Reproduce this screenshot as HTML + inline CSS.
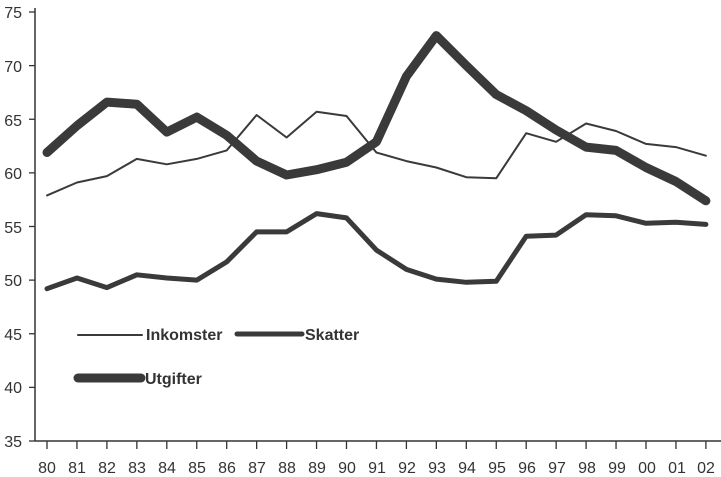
<!DOCTYPE html>
<html><head><meta charset="utf-8"><style>
html,body{margin:0;padding:0;background:#fff;}
svg{display:block;}
text{font-family:"Liberation Sans",sans-serif;fill:#333;}
</style></head><body>
<svg id="s" width="721" height="477" viewBox="0 0 721 477" xmlns="http://www.w3.org/2000/svg">
<g stroke="#333" stroke-width="1.5" fill="none">
<line x1="35" y1="8" x2="35" y2="441"/>
<line x1="35" y1="441" x2="721" y2="441"/>
</g>
<g id="ticks" stroke="#333" stroke-width="1.3"></g>
<g font-size="16" text-anchor="end">
<text x="22" y="18">75</text><text x="22" y="72">70</text><text x="22" y="126">65</text>
<text x="22" y="179">60</text><text x="22" y="233">55</text><text x="22" y="286">50</text>
<text x="22" y="340">45</text><text x="22" y="393">40</text><text x="22" y="447">35</text>
</g>
<g font-size="16" text-anchor="middle">
<text x="47" y="473">80</text><text x="77" y="473">81</text><text x="107" y="473">82</text>
<text x="137" y="473">83</text><text x="167" y="473">84</text><text x="197" y="473">85</text>
<text x="227" y="473">86</text><text x="257" y="473">87</text><text x="287" y="473">88</text>
<text x="317" y="473">89</text><text x="347" y="473">90</text><text x="377" y="473">91</text>
<text x="407" y="473">92</text><text x="437" y="473">93</text><text x="467" y="473">94</text>
<text x="497" y="473">95</text><text x="527" y="473">96</text><text x="557" y="473">97</text>
<text x="587" y="473">98</text><text x="617" y="473">99</text><text x="647" y="473">00</text>
<text x="677" y="473">01</text><text x="706" y="473">02</text>
</g>
<g id="lines" fill="none" stroke="#3a3a3a" stroke-linejoin="round" stroke-linecap="round"></g>
<g stroke="#3a3a3a" stroke-linecap="round">
<line x1="78" y1="335" x2="142" y2="335" stroke-width="2"/>
<line x1="237" y1="334" x2="302" y2="334" stroke-width="5"/>
<line x1="78" y1="378" x2="141" y2="378" stroke-width="9"/>
</g>
<g font-size="16" font-weight="bold">
<text x="146" y="340">Inkomster</text>
<text x="305" y="340">Skatter</text>
<text x="145" y="384">Utgifter</text>
</g>
</svg>
<script>
var y=v=>441-(v-35)*10.725, x=i=>47+i*29.95;
var t=document.getElementById('ticks'),ns='http://www.w3.org/2000/svg';
for(var i=0;i<23;i++){var l=document.createElementNS(ns,'line');l.setAttribute('x1',x(i));l.setAttribute('x2',x(i));l.setAttribute('y1',441);l.setAttribute('y2',449);t.appendChild(l);}
for(var v=35;v<=75;v+=5){var l=document.createElementNS(ns,'line');l.setAttribute('x1',29);l.setAttribute('x2',35);l.setAttribute('y1',y(v));l.setAttribute('y2',y(v));t.appendChild(l);}
var D=[
[[57.9,59.1,59.7,61.3,60.8,61.3,62.1,65.4,63.3,65.7,65.3,61.9,61.1,60.5,59.6,59.5,63.7,62.9,64.6,63.9,62.7,62.4,61.6],2],
[[49.2,50.2,49.3,50.5,50.2,50.0,51.7,54.5,54.5,56.2,55.8,52.8,51.0,50.1,49.8,49.9,54.1,54.2,56.1,56.0,55.3,55.4,55.2],5],
[[61.9,64.4,66.6,66.4,63.8,65.2,63.5,61.1,59.8,60.3,61.0,62.9,69.0,72.8,70.0,67.3,65.8,64.0,62.4,62.1,60.5,59.2,57.4],9]];
var g=document.getElementById('lines');
D.forEach(d=>{var p=document.createElementNS(ns,'polyline');p.setAttribute('points',d[0].map((v,i)=>x(i).toFixed(1)+','+y(v).toFixed(1)).join(' '));p.setAttribute('stroke-width',d[1]);g.appendChild(p);});
</script>
</body></html>
